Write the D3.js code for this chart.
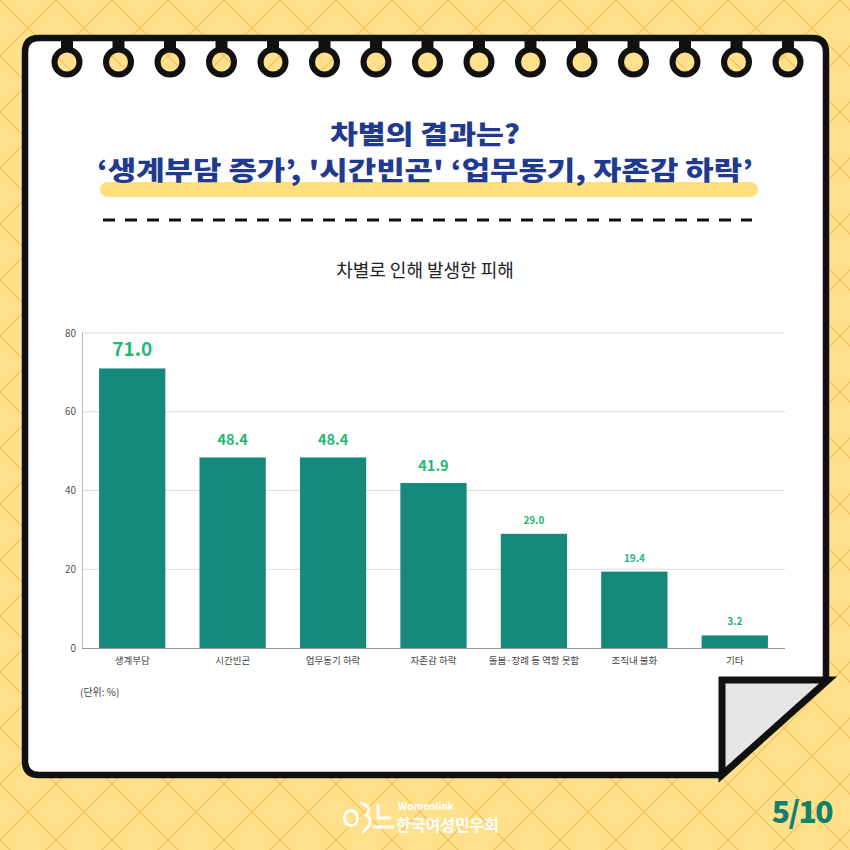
<!DOCTYPE html>
<html>
<head>
<meta charset="utf-8">
<script src="https://cdn.jsdelivr.net/npm/d3@7"></script>
<style>
  html, body { margin: 0; padding: 0; background: #fff; }
  svg { display: block; }
  text { font-family: "Noto Sans CJK KR", "Noto Sans", sans-serif; }
</style>
</head>
<body>
<svg id="card"></svg>
<script>
// data
const categories = ["생계부담", "시간빈곤", "업무동기 하락", "자존감 하락", "돌봄·장례 등 역할 못함", "조직내 불화", "기타"];
const values = [71.0, 48.4, 48.4, 41.9, 29.0, 19.4, 3.2];
const yTicks = [0, 20, 40, 60, 80];
const titleLines = ["차별의 결과는?", "‘생계부담 증가’, '시간빈곤' ‘업무동기, 자존감 하락’"];
const chartTitle = "차별로 인해 발생한 피해";
const unitNote = "(단위: %)";
const pageNo = "5/10";

var width = 850, height = 850;
const svg = d3.select("#card").attr("width", width).attr("height", height);
const defs = svg.append("defs");

// ! background lattice
const pat = defs.append("pattern")
  .attr("id", "lattice")
  .attr("patternUnits", "userSpaceOnUse")
  .attr("width", 56).attr("height", 56);
pat.append("rect").attr("width", 56).attr("height", 56).attr("fill", "#fee18a");
pat.append("path")
  .attr("d", "M0,0 L56,56 M56,0 L0,56")
  .attr("stroke", "#f3bf5c").attr("stroke-width", 1.4).attr("opacity", 0.8);

svg.append("rect").attr("width", width).attr("height", height).attr("fill", "url(#lattice)");

// ! paper
var L = 25, T = 38, R = 826, B = 775, r = 14;
var foldX = 722, foldY = 680;
svg.append("path")
  .attr("d", `M${L + r},${T} H${R - r} Q${R},${T} ${R},${T + r} V${foldY} L${foldX},${B} H${L + r} Q${L},${B} ${L},${B - r} V${T + r} Q${L},${T} ${L + r},${T} Z`)
  .attr("fill", "#fff").attr("stroke", "#111").attr("stroke-width", 6.5);

svg.append("path")
  .attr("d", `M${foldX},${foldY} H${R + 2} L${foldX},${B} Z`)
  .attr("fill", "#e6e6e6").attr("stroke", "#111").attr("stroke-width", 7)
  .attr("stroke-linejoin", "miter");

// rings
const ringX = d3.range(15).map((i) => 67 + i * 51.5);
const rings = svg.append("g");
rings.selectAll("rect").data(ringX).enter().append("rect")
  .attr("x", (d) => d - 6).attr("y", T).attr("width", 12).attr("height", 14)
  .attr("fill", "#111");
rings.selectAll("circle").data(ringX).enter().append("circle")
  .attr("cx", (d) => d).attr("cy", 62).attr("r", 12.5)
  .attr("fill", "url(#lattice)").attr("stroke", "#111").attr("stroke-width", 6);

// ! headline
svg.append("rect")
  .attr("x", 100).attr("y", 182).attr("width", 658).attr("height", 15).attr("rx", 7.5)
  .attr("fill", "#ffe07c");
const titleWidths = [190, 656];
svg.append("g").selectAll("text").data(titleLines).enter().append("text")
  .attr("x", 425).attr("y", (d, i) => 144 + i * 36)
  .attr("text-anchor", "middle")
  .attr("font-size", 26).attr("font-weight", 900)
  .attr("fill", "#1f3a8f")
  .attr("textLength", (d, i) => titleWidths[i])
  .attr("lengthAdjust", "spacingAndGlyphs")
  .text((d) => d);

svg.append("line")
  .attr("x1", 103).attr("x2", 752).attr("y1", 220).attr("y2", 220)
  .attr("stroke", "#111").attr("stroke-width", 3.2)
  .attr("stroke-dasharray", "12,10");

svg.append("text")
  .attr("x", 425).attr("y", 277).attr("text-anchor", "middle")
  .attr("font-size", 18).attr("fill", "#222")
  .text(chartTitle);

// ! bar chart
const x = d3.scaleBand().domain(categories).range([82, 785])
  .paddingInner(0.34).paddingOuter(0.17);
const y = d3.scaleLinear().domain([0, 80]).range([648, 333]);

const chart = svg.append("g");
chart.selectAll(".grid").data(yTicks.filter((d) => d > 0)).enter().append("line")
  .attr("class", "grid")
  .attr("x1", 82).attr("x2", 785)
  .attr("y1", (d) => y(d)).attr("y2", (d) => y(d))
  .attr("stroke", "#dcdcdc").attr("stroke-width", 1);

chart.append("line").attr("x1", 82.5).attr("x2", 82.5).attr("y1", y(80)).attr("y2", y(0))
  .attr("stroke", "#bbb");

const yAxis = chart.append("g").attr("transform", "translate(76,0)")
  .call(d3.axisLeft(y).tickValues(yTicks).tickSize(0).tickPadding(0));
yAxis.select(".domain").remove();
yAxis.selectAll("text").attr("font-size", 10).attr("fill", "#555")
  .attr("font-family", "Roboto, 'Noto Sans', sans-serif");

chart.selectAll(".bar").data(values).enter().append("rect")
  .attr("class", "bar")
  .attr("x", (d, i) => x(categories[i]))
  .attr("y", (d) => y(d))
  .attr("width", x.bandwidth())
  .attr("height", (d) => y(0) - y(d))
  .attr("fill", "#168a7a");

chart.append("line").attr("x1", 82).attr("x2", 785).attr("y1", y(0) + 0.5).attr("y2", y(0) + 0.5)
  .attr("stroke", "#999").attr("stroke-width", 1.2);

// value labels: size steps with the value, like the original
function labelSize(v) {
  return v >= 70 ? 19 : v >= 40 ? 14.5 : 10;
}
chart.selectAll(".val").data(values).enter().append("text")
  .attr("class", "val")
  .attr("x", (d, i) => x(categories[i]) + x.bandwidth() / 2)
  .attr("y", (d) => y(d) - (labelSize(d) >= 14 ? 12 : 10))
  .attr("text-anchor", "middle")
  .attr("font-size", (d) => labelSize(d))
  .attr("font-weight", 700)
  .attr("fill", "#1fb874")
  .attr("font-family", "Roboto, 'Noto Sans', sans-serif")
  .text((d) => d.toFixed(1));

const xAxis = chart.append("g").attr("transform", `translate(0,${y(0)})`)
  .call(d3.axisBottom(x).tickSize(0).tickPadding(9));
xAxis.select(".domain").remove();
xAxis.selectAll("text").attr("font-size", 9.5).attr("fill", "#444")
  .attr("font-family", "'Noto Sans CJK KR', sans-serif");

svg.append("text").attr("x", 80).attr("y", 696)
  .attr("font-size", 10).attr("fill", "#444").text(unitNote);

// ! footer
const logo = svg.append("g").attr("fill", "none").attr("stroke", "#fff")
  .attr("stroke-width", 2.8).attr("stroke-linecap", "round");
logo.append("ellipse").attr("cx", 351).attr("cy", 818).attr("rx", 6.5).attr("ry", 7.5);
logo.append("path").attr("d", "M361,803 Q373,807 366,815 Q376,821 363,832");
logo.append("path").attr("d", "M378,805 V818 H390 M374,827 H393");
svg.append("text").attr("x", 398).attr("y", 810)
  .attr("font-size", 10).attr("font-weight", 700).attr("fill", "#fff")
  .attr("font-family", "Roboto, sans-serif").text("Womenlink");
svg.append("text").attr("x", 396).attr("y", 831)
  .attr("font-size", 16).attr("font-weight", 700).attr("fill", "#fff")
  .text("한국여성민우회");

svg.append("text").attr("x", 832).attr("y", 823).attr("text-anchor", "end")
  .attr("font-size", 30).attr("font-weight", 900).attr("fill", "#12806f")
  .attr("font-family", "Roboto, sans-serif")
  .attr("letter-spacing", -1.5)
  .text(pageNo);
</script>
</body>
</html>
